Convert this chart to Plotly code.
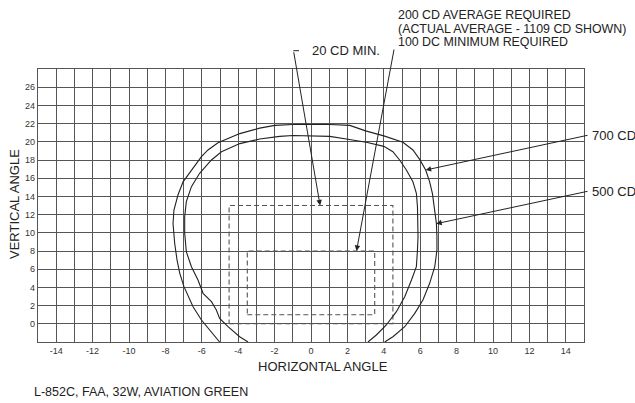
import plotly.graph_objects as go

# ---------------- data ----------------
outer_x = [-5.02, -5.47, -6.02, -6.48, -6.98, -7.21, -7.36, -7.49, -7.58, -7.53, -7.31, -7.03, -6.48, -6.02, -5.66, -5.11,
           -3.91, -2.82, -1.99, -0.99, 0.11, 1.03, 2.13, 3.0, 4.0, 5.05,
           5.6, 5.97, 6.3, 6.52, 6.67, 6.8, 6.89, 6.92, 6.92, 6.8, 6.52, 6.15, 5.7, 5.15, 4.5, 4.05]
outer_y = [-2.0, -0.87, 0.42, 1.88, 4.08, 5.55, 7.0, 8.85, 11.0, 12.5, 14.15, 15.6, 17.09, 18.36, 19.1, 19.9,
           20.9, 21.5, 21.8, 21.9, 21.9, 21.9, 21.8, 21.2, 20.65, 19.94,
           19.1, 18.07, 16.9, 15.6, 14.34, 12.5, 11.04, 9.57, 8.1, 6.27, 4.45, 2.62, 1.15, -0.32, -1.42, -2.0]

inner_x = [-3.46, -3.92, -4.56, -5.02, -5.2, -5.47, -5.93, -6.21, -6.57, -6.85, -6.94, -6.94, -6.85, -6.57, -6.12, -5.47, -4.92,
           -3.91, -2.82, -1.72, -0.99, 1.03, 1.94, 3.04, 4.0, 4.5,
           4.87, 5.24, 5.6, 5.79, 5.85, 5.88, 5.88, 5.85, 5.79, 5.52, 5.15, 4.69, 4.14, 3.59, 3.13]
inner_y = [-2.0, -1.42, -0.32, 0.6, 1.52, 2.43, 3.35, 4.81, 6.27, 7.92, 9.95, 11.77, 13.42, 15.07, 16.54, 18.0, 18.9,
           19.8, 20.3, 20.6, 20.7, 20.6, 20.3, 19.95, 19.5, 18.91,
           18.0, 16.9, 15.6, 14.34, 12.87, 11.04, 9.57, 8.1, 6.27, 4.81, 2.98, 1.33, -0.13, -1.23, -2.0]

# required boxes: [x0, x1, y0, y1]
box_20cd = [-4.5, 4.5, 0, 13]
box_avg = [-3.5, 3.5, 1, 8]

x_range = [-15, 15]
y_range = [-2, 28]
x_ticks = list(range(-15, 16))
x_ticktext = [("-" + str(-v) if v < 0 else str(v)) if (v % 2 == 0) else "" for v in x_ticks]
y_ticks = list(range(-2, 29, 2))
y_ticktext = [str(v) if 0 <= v <= 26 else "" for v in y_ticks]

# arrow targets (data) for callouts
tip_20cd = (0.5, 13)
tip_avg = (2.5, 8)
tip_700 = (6.3, 16.9)
tip_500 = (6.88, 11.0)

# ---------------- layout helpers ----------------
W, H = 635, 403
ML, MR, MT, MB = 38, 51, 69, 61
PW, PH = W - ML - MR, H - MT - MB
FONT = "Liberation Sans, Arial, sans-serif"


def px(xp):
    return (xp - ML) / PW


def py(yp):
    return (MT + PH - yp) / PH


def dpx(x):
    return ML + (x - x_range[0]) / (x_range[1] - x_range[0]) * PW


def dpy(y):
    return MT + PH - (y - y_range[0]) / (y_range[1] - y_range[0]) * PH


fig = go.Figure()

for bx in (box_20cd, box_avg):
    fig.add_trace(go.Scatter(
        x=[bx[0], bx[1], bx[1], bx[0], bx[0]], y=[bx[2], bx[2], bx[3], bx[3], bx[2]],
        mode="lines", line=dict(color="#555555", width=1.1, dash="5px,3px"),
        hoverinfo="skip", showlegend=False))

for cx, cy in ((outer_x, outer_y), (inner_x, inner_y)):
    fig.add_trace(go.Scatter(x=cx, y=cy, mode="lines",
                             line=dict(color="#222222", width=1.1),
                             hoverinfo="skip", showlegend=False))

grid = "#555555"
fig.update_xaxes(range=x_range, tickmode="array", tickvals=x_ticks, ticktext=x_ticktext,
                 showgrid=True, gridcolor=grid, gridwidth=1.3, zeroline=False,
                 showline=True, mirror=True, linecolor=grid, linewidth=1.3,
                 ticks="", tickfont=dict(family=FONT, size=9, color="#333333"))
fig.update_yaxes(range=y_range, tickmode="array", tickvals=y_ticks, ticktext=y_ticktext,
                 showgrid=True, gridcolor=grid, gridwidth=1.3, zeroline=False,
                 showline=True, mirror=True, linecolor=grid, linewidth=1.3,
                 ticks="", tickfont=dict(family=FONT, size=9, color="#333333"))

ann = []


def text(s, xp, yp, size=13, xanchor="left", angle=0):
    ann.append(dict(text=s, x=px(xp), y=py(yp), xref="paper", yref="paper",
                    xanchor=xanchor, yanchor="middle", showarrow=False, textangle=angle,
                    font=dict(family=FONT, size=size, color="#222222")))


def arrow(tip, tail_px):
    hx, hy = dpx(tip[0]), dpy(tip[1])
    ann.append(dict(x=tip[0], y=tip[1], xref="x", yref="y", text="", showarrow=True,
                    ax=tail_px[0] - hx, ay=tail_px[1] - hy, axref="pixel", ayref="pixel",
                    arrowhead=2, arrowsize=1.1, arrowwidth=1, arrowcolor="#222222", standoff=0))


text("200 CD AVERAGE REQUIRED", 396, 15, size=12.4)
text("(ACTUAL AVERAGE - 1109 CD SHOWN)", 396, 28.7, size=12.4)
text("100 DC MINIMUM REQUIRED", 396, 42.2, size=12.4)
text("20 CD MIN.", 310, 50.7)
text("700 CD", 590, 135)
text("500 CD", 590, 191)
text("HORIZONTAL ANGLE", 323, 366, xanchor="center")
text("VERTICAL ANGLE", 14, 204, xanchor="center", angle=-90)
text("L-852C, FAA, 32W, AVIATION GREEN", 32, 392.3, size=12.5)

arrow(tip_20cd, (293.5, 50.7))
arrow(tip_avg, (394.3, 48))
arrow(tip_700, (589, 135))
arrow(tip_500, (589, 191))

shapes = [dict(type="line", xref="paper", yref="paper", x0=px(293.3), x1=px(299), y0=py(50.7), y1=py(50.7),
               line=dict(color="#222222", width=1))]

fig.update_layout(width=W, height=H, margin=dict(l=ML, r=MR, t=MT, b=MB),
                  paper_bgcolor="white", plot_bgcolor="white",
                  annotations=ann, shapes=shapes, showlegend=False)

fig.write_html("out.html", config={"displayModeBar": False},
               post_script="document.body.style.margin='0px';document.body.style.overflow='hidden';")
